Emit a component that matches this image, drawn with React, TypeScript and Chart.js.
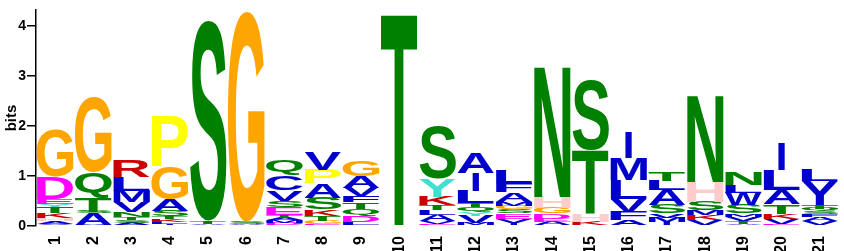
import React, { useEffect, useRef } from 'react';
import { Chart, registerables } from 'chart.js';

Chart.register(...registerables);

// Sequence positions (x categories)
const positions = ['1','2','3','4','5','6','7','8','9','10','11','12','13','14','15','16','17','18','19','20','21'];

// Letters per position, stacked bottom -> top
const stackLetters = [
  'VAHKTYEDG',
  'VASTQG',
  'ASTNVMLR',
  'ILKTSAGP',
  'GATS',
  'ASG',
  'DMATESVCQ',
  'EGTKSAPV',
  'LDQTFVAG',
  'ST',
  'EVALTKYS',
  'MVYQTLIA',
  'IVESGMAFL',
  'AEDGHN',
  'KHTS',
  'AFVLMI',
  'IMVSALT',
  'VKMSHN',
  'ATVMSWLN',
  'GEVKTALI',
  'VAFSQTYL',
];

// Heights in bits, matching stackLetters
const stackBits = [
  [0.05, 0.05, 0.06, 0.1, 0.12, 0.06, 0.1, 0.44, 0.96],
  [0.03, 0.22, 0.04, 0.28, 0.5, 1.5],
  [0.06, 0.06, 0.06, 0.1, 0.2, 0.22, 0.29, 0.32],
  [0.05, 0.04, 0.05, 0.05, 0.12, 0.22, 0.65, 1.02],
  [0.02, 0.03, 0.06, 4.0],
  [0.04, 0.05, 4.2],
  [0.06, 0.06, 0.05, 0.06, 0.14, 0.14, 0.21, 0.3, 0.3],
  [0.03, 0.08, 0.1, 0.12, 0.24, 0.28, 0.28, 0.36],
  [0.08, 0.13, 0.14, 0.12, 0.13, 0.17, 0.23, 0.32],
  [0.02, 4.26],
  [0.05, 0.05, 0.12, 0.1, 0.1, 0.17, 0.36, 1.05],
  [0.06, 0.14, 0.07, 0.11, 0.08, 0.25, 0.36, 0.42],
  [0.07, 0.08, 0.1, 0.08, 0.08, 0.08, 0.19, 0.18, 0.26],
  [0.08, 0.07, 0.1, 0.12, 0.22, 2.63],
  [0.09, 0.16, 1.27, 1.4],
  [0.11, 0.18, 0.26, 0.37, 0.45, 0.52],
  [0.08, 0.09, 0.08, 0.17, 0.3, 0.19, 0.18],
  [0.12, 0.1, 0.09, 0.18, 0.4, 1.73],
  [0.05, 0.06, 0.08, 0.06, 0.17, 0.25, 0.15, 0.25],
  [0.02, 0.02, 0.11, 0.1, 0.19, 0.28, 0.4, 0.55],
  [0.1, 0.08, 0.06, 0.06, 0.05, 0.08, 0.48, 0.24],
];

const yTicks = [0, 1, 2, 3, 4];

const BLUE = '#0000CC';
const letterColors: Record<string, string> = {
  G: '#FFA500',
  P: '#FFFF00',
  S: '#008000', T: '#008000', N: '#008000', Q: '#008000',
  D: '#FF00FF', E: '#FF00FF',
  K: '#CC0000', R: '#CC0000',
  H: '#FFCCCC',
  Y: '#40E0D0',
  A: BLUE, V: BLUE, L: BLUE, I: BLUE, M: BLUE, F: BLUE, W: BLUE, C: BLUE,
};
const colorOverrides: Record<string, string> = { '20:Y': BLUE };

const LETTER_FONT = 'bold 100px "Liberation Sans", Arial, Helvetica, sans-serif';
const AXIS_FONT = '"Liberation Sans", Arial, Helvetica, sans-serif';

function drawLetter(ctx: CanvasRenderingContext2D, letter: string, x0: number, y0: number, w: number, h: number, color: string) {
  ctx.save();
  ctx.font = LETTER_FONT;
  ctx.textAlign = 'left';
  ctx.textBaseline = 'alphabetic';
  const m = ctx.measureText(letter);
  const gl = m.actualBoundingBoxLeft;
  const gr = m.actualBoundingBoxRight;
  const ga = m.actualBoundingBoxAscent;
  const gd = m.actualBoundingBoxDescent;
  const gw = gl + gr;
  const gh = ga + gd;
  if (gw <= 0 || gh <= 0) { ctx.restore(); return; }
  let lx = x0;
  let lw = w;
  if (letter === 'I') {
    // keep the I narrow, as a logo does
    lw = w * 0.19;
    lx = x0 + (w - lw) / 2;
  }
  ctx.translate(lx, y0);
  ctx.scale(lw / gw, h / gh);
  ctx.fillStyle = color;
  ctx.fillText(letter, gl, ga);
  ctx.restore();
}

const logoPlugin = {
  id: 'logoLetters',
  afterDatasetsDraw(chart: any) {
    const ctx = chart.ctx as CanvasRenderingContext2D;
    const area = chart.chartArea;
    ctx.save();
    ctx.beginPath();
    ctx.rect(area.left, 0, area.right - area.left, area.bottom + 1);
    ctx.clip();
    chart.data.datasets.forEach((ds: any, di: number) => {
      const meta = chart.getDatasetMeta(di);
      meta.data.forEach((el: any, i: number) => {
        const letter = ds.letters[i];
        if (!letter) return;
        const p = el.getProps(['x', 'y', 'base', 'width'], true);
        const top = Math.min(p.y, p.base);
        const h = Math.abs(p.base - p.y);
        if (h < 0.3) return;
        const color = colorOverrides[`${i}:${letter}`] || letterColors[letter] || '#000';
        drawLetter(ctx, letter, p.x - p.width / 2, top, p.width, h, color);
      });
    });
    ctx.restore();
  },
};

export default function App() {
  const ref = useRef<HTMLCanvasElement | null>(null);

  useEffect(() => {
    if (!ref.current) return;
    const depth = Math.max(...stackLetters.map((s) => s.length));
    const datasets = [] as any[];
    for (let k = 0; k < depth; k++) {
      datasets.push({
        label: `layer${k}`,
        data: stackBits.map((b) => (b[k] !== undefined ? b[k] : 0)),
        letters: stackLetters.map((s) => s[k] || ''),
        backgroundColor: 'rgba(0,0,0,0)',
        borderWidth: 0,
        barPercentage: 1,
        categoryPercentage: 0.96,
      });
    }
    const chart = new Chart(ref.current, {
      type: 'bar',
      data: { labels: positions, datasets },
      plugins: [logoPlugin],
      options: {
        animation: false,
        responsive: false,
        maintainAspectRatio: false,
        layout: { padding: { top: 10, right: 5, left: 0, bottom: 0 } },
        plugins: { legend: { display: false }, tooltip: { enabled: false } },
        scales: {
          x: {
            type: 'category',
            stacked: true,
            grid: { display: false },
            border: { display: false },
            ticks: {
              color: '#000',
              font: { family: AXIS_FONT, size: 16, weight: 'bold' },
              minRotation: 90,
              maxRotation: 90,
              padding: 2,
              autoSkip: false,
            },
            afterFit: (scale: any) => { scale.height = 25; },
          },
          y: {
            type: 'linear',
            stacked: true,
            min: 0,
            max: 4.32,
            grid: { display: true, drawOnChartArea: false, tickLength: 9, color: '#000', lineWidth: 1.5 },
            border: { display: true, color: '#000', width: 1.5 },
            title: {
              display: true,
              text: 'bits',
              color: '#000',
              font: { family: AXIS_FONT, size: 15, weight: 'bold' },
              padding: { top: 3, bottom: 0 },
            },
            ticks: {
              color: '#000',
              stepSize: 1,
              padding: 1,
              font: { family: AXIS_FONT, size: 14, weight: 'bold' },
            },
            afterBuildTicks: (scale: any) => {
              scale.ticks = yTicks.map((v) => ({ value: v }));
            },
            afterFit: (scale: any) => { scale.width = 36; },
          },
        },
      } as any,
    });
    return () => chart.destroy();
  }, []);

  return (
    <div style={{ position: 'fixed', left: 0, top: 0, width: 844, height: 251, background: '#fff' }}>
      <canvas ref={ref} width={844} height={251} style={{ display: 'block' }} />
    </div>
  );
}
